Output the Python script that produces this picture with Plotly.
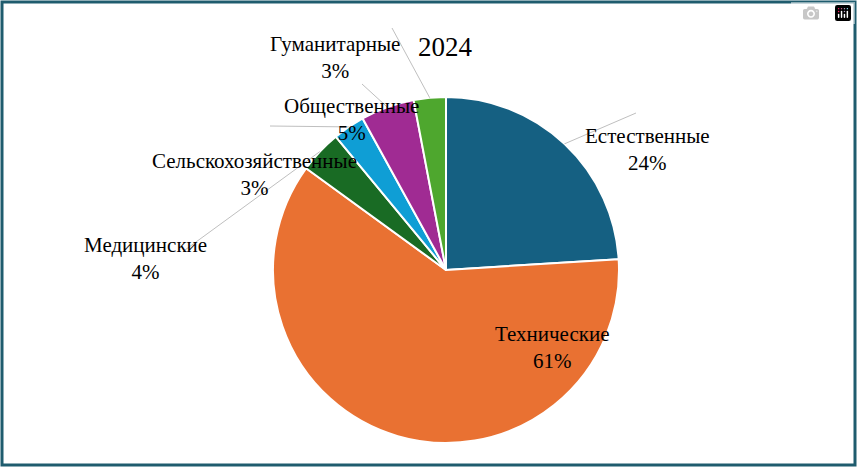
import math
import plotly.graph_objects as go

labels = ["Естественные", "Технические", "Медицинские", "Сельскохозяйственные", "Общественные", "Гуманитарные"]
values = [24, 61, 4, 3, 5, 3]
colors = ["#156082", "#E97132", "#196B24", "#0F9ED5", "#A02B93", "#4EA72E"]

W, H = 857, 467
cx, cy, r = 446, 270, 173
# label centers (px) and leader-line endpoints (px) -- layout only
label_pos = [(712, 122), (612, 375), (82, 258), (150, 147), (282, 92), (268, 30)]
line_end = [(636, 113), None, (185, 250), (270, 126), (362, 84), (392, 28)]

fig = go.Figure(go.Pie(
    labels=labels, values=values, sort=False, direction="clockwise", rotation=0,
    marker=dict(colors=colors, line=dict(color="white", width=2)),
    textinfo="none", hoverinfo="label+percent", showlegend=False,
    domain=dict(x=[(cx - r) / W, (cx + r) / W], y=[1 - (cy + r) / H, 1 - (cy - r) / H]),
))

def px(x, y):
    return x / W, 1 - y / H

shapes = [dict(type="rect", xref="paper", yref="paper", x0=2 / W, y0=2 / H, x1=1 - 2 / W, y1=1 - 2 / H,
               line=dict(color="#1F5C6E", width=3))]
annotations = []
total = sum(values)
cum = 0
for i, (lab, v) in enumerate(zip(labels, values)):
    mid = (cum + v / 2) / total * 2 * math.pi
    cum += v
    pct = round(v / total * 100)
    lx, ly = label_pos[i]
    X, Y = px(lx, ly)
    annotations.append(dict(x=X, y=Y, xref="paper", yref="paper", showarrow=False,
                            text=f"{lab}<br>{pct}%", align="center",
                            font=dict(family="Liberation Serif", size=21, color="black")))
    if line_end[i]:
        ex, ey = cx + r * math.sin(mid), cy - r * math.cos(mid)
        x0, y0 = px(ex, ey)
        x1, y1 = px(*line_end[i])
        shapes.append(dict(type="line", xref="paper", yref="paper", x0=x0, y0=y0, x1=x1, y1=y1,
                           line=dict(color="#BFBFBF", width=1)))

annotations.append(dict(x=445 / W, y=1 - 30 / H, xref="paper", yref="paper", showarrow=False,
                        text="2024", font=dict(family="Liberation Serif", size=27, color="black")))

fig.update_layout(width=W, height=H, margin=dict(l=0, r=0, t=0, b=0),
                  paper_bgcolor="white", shapes=shapes, annotations=annotations)
fig.write_html("out.html", post_script="document.body.style.margin='0';document.body.style.overflow='hidden';")
